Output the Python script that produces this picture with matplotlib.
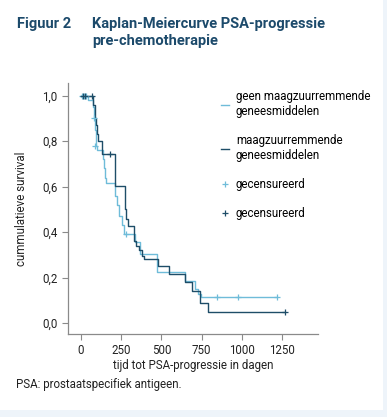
import matplotlib.pyplot as plt
from matplotlib.lines import Line2D
from matplotlib.patches import Rectangle

plt.rcParams['font.family'] = ['Roboto', 'DejaVu Sans']

# geen maagzuurremmende geneesmiddelen (light)
light_days = [0, 45, 75, 82, 88, 92, 100, 137, 143, 150, 157, 212, 226, 240, 255, 268,
              338, 368, 471, 645, 708, 729, 746, 1219]
light_surv = [1.0, 0.98, 0.95, 0.90, 0.85, 0.78, 0.76, 0.72, 0.68, 0.64, 0.614, 0.56, 0.52,
              0.47, 0.43, 0.39, 0.356, 0.306, 0.223, 0.187, 0.15, 0.13, 0.113, 0.113]
light_cens_days = [8, 18, 30, 85, 90, 280, 843, 977, 1219]
light_cens_surv = [1.0, 1.0, 1.0, 0.90, 0.78, 0.39, 0.113, 0.113, 0.113]

# maagzuurremmende geneesmiddelen (dark)
dark_days = [0, 78, 88, 95, 101, 110, 130, 215, 272, 280, 295, 330, 345, 360, 378, 395,
             480, 545, 645, 687, 740, 791, 1267]
dark_surv = [1.0, 0.96, 0.90, 0.87, 0.83, 0.80, 0.743, 0.605, 0.50, 0.46, 0.425, 0.36, 0.34,
             0.32, 0.297, 0.284, 0.253, 0.216, 0.18, 0.142, 0.09, 0.047, 0.047]
dark_cens_days = [12, 25, 70, 182, 1267]
dark_cens_surv = [1.0, 1.0, 1.0, 0.743, 0.047]

xticks = [0, 250, 500, 750, 1000, 1250]
yticks = [0.0, 0.2, 0.4, 0.6, 0.8, 1.0]
ytick_labels = ['0,0', '0,2', '0,4', '0,6', '0,8', '1,0']

light_c = '#6fbcd9'
dark_c = '#1e4d68'
title_c = '#1c4a6b'
fs = 8.3

fig = plt.figure(figsize=(3.87, 4.17), dpi=100)
fig.patch.set_facecolor('#eef4fa')
fig.patches.append(Rectangle((0, 0.017), 0.99, 0.983, transform=fig.transFigure,
                             facecolor='white', edgecolor='none', zorder=-10))

ax = fig.add_axes([0.1757, 0.199, 0.646, 0.602])
ax.set_facecolor('none')
ax.step(light_days, light_surv, where='post', color=light_c, lw=1.0)
ax.step(dark_days, dark_surv, where='post', color=dark_c, lw=1.0)
ax.plot(light_cens_days, light_cens_surv, '+', color=light_c, ms=4.5, mew=0.9)
ax.plot(dark_cens_days, dark_cens_surv, '+', color=dark_c, ms=4.5, mew=0.9)

ax.set_xlim(-79, 1471)
ax.set_ylim(-0.048, 1.056)
ax.set_xticks(xticks)
ax.set_yticks(yticks)
ax.set_yticklabels(ytick_labels)
for s in ['top', 'right']:
    ax.spines[s].set_visible(False)
for s in ['left', 'bottom']:
    ax.spines[s].set_color('#8a8a8a')
    ax.spines[s].set_linewidth(0.9)
ax.tick_params(colors='#8a8a8a', labelcolor='#222222', labelsize=fs, length=4, width=0.8)
ax.set_xlabel('tijd tot PSA-progressie in dagen', fontsize=fs, color='#222222', labelpad=1)
ax.set_ylabel('cummulatieve survival', fontsize=fs, color='#222222', labelpad=10)

handles = [
    Line2D([], [], color=light_c, lw=1.0),
    Line2D([], [], color=dark_c, lw=1.0),
    Line2D([], [], color=light_c, marker='+', ls='none', ms=5, mew=0.9),
    Line2D([], [], color=dark_c, marker='+', ls='none', ms=5, mew=0.9),
]
labels = ['geen maagzuurremmende\ngeneesmiddelen', 'maagzuurremmende\ngeneesmiddelen',
          'gecensureerd', 'gecensureerd']
ax.legend(handles, labels, loc='upper left', bbox_to_anchor=(0.57, 1.015), frameon=False,
          fontsize=fs, handlelength=0.7, handletextpad=0.6, labelspacing=1.4)

fig.text(17 / 387, 1 - 28 / 417, 'Figuur 2', fontsize=10.5, fontweight='bold', color=title_c,
         va='baseline')
fig.text(92 / 387, 1 - 28 / 417, 'Kaplan-Meiercurve PSA-progressie', fontsize=10.5,
         fontweight='bold', color=title_c, va='baseline')
fig.text(92 / 387, 1 - 45 / 417, 'pre-chemotherapie', fontsize=10.5, fontweight='bold',
         color=title_c, va='baseline')
fig.text(16 / 387, 1 - 388 / 417, 'PSA: prostaatspecifiek antigeen.', fontsize=fs,
         color='#222222', va='baseline')

fig.savefig('out.png', dpi=100, facecolor=fig.get_facecolor())
